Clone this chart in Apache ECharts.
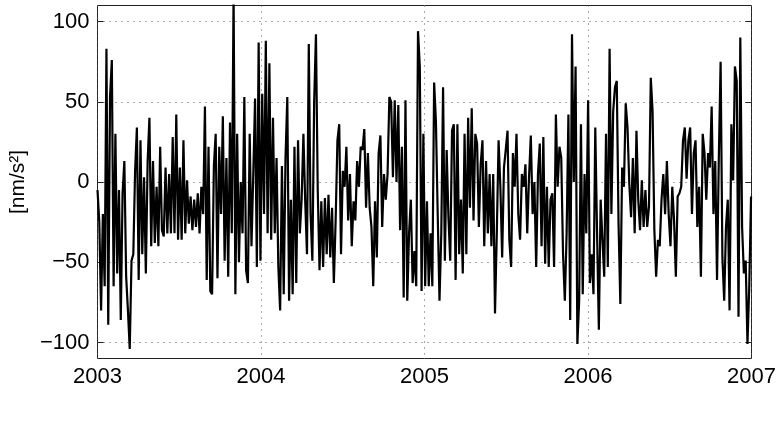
<!DOCTYPE html>
<html>
<head>
<meta charset="utf-8">
<script src="https://cdn.jsdelivr.net/npm/echarts@6/dist/echarts.min.js"></script>
<style>
  html, body { margin: 0; padding: 0; background: #fff; }
  #chart { width: 782px; height: 425px; }
</style>
</head>
<body>
<div id="chart"></div>
<script>
// samples every 4 days from 2003-01-01, values in nm/s^2
const startYear = 2003;
const stepDays = 4;
const values = [
  -5, -25, -80, -20, -65, 83, -89, 53, 76, -65, 30, -57, -5, -86, -7, 13, -59, -80, -104, -49,
  -45, 7, 34, -61, 26, -45, 3, -57, 13, 40, -40, 13, -38, -3, -40, 22, -30, -34, 9, -32,
  5, -32, 28, -32, 42, -36, 9, -36, 26, -32, 1, -26, -9, -30, -11, -28, -7, -32, -3, -20,
  47, -61, 22, -68, -70, 10, 30, -60, 22, -20, 41, -49, 15, -59, 37, -32, 118, -70, 30, -50,
  0, -32, 53, -55, -63, 30, -40, 5, 52, -53, 87, -49, 55, -20, 88, -32, 74, -36, 40, -32,
  15, -53, -80, 10, -70, 15, 53, -74, -11, -70, 22, -63, 26, -32, -11, 30, -12, -45, 86, -20,
  -49, 50, 92, -5, -55, -12, -53, -10, -45, -8, -47, -16, -63, -24, 26, 36, -45, 7, -3, 22,
  -24, 5, -40, -12, -24, 13, -3, 22, 20, 33, -16, 18, -16, -28, -65, -12, -47, 18, 29, -28,
  5, -11, 5, 53, 50, 3, 51, 0, 48, -30, 22, -72, 51, -74, -32, -11, -63, -43, -65, 94,
  72, -68, 30, -65, -12, -65, -32, -65, 62, 38, -20, -74, -32, 59, -49, 20, -22, -49, 32, 36,
  -61, 36, -45, -11, -57, 30, -45, 40, -16, 46, -24, 30, 24, -28, 11, 26, -40, 13, -32, 5,
  -40, 5, -82, -32, 26, -3, -47, 9, 20, 32, -36, -53, 18, -3, 30, -20, -36, 5, -3, 11,
  -32, 3, 29, -20, 0, -53, 5, 24, -40, 28, -51, -3, -53, -11, -7, -53, 42, -3, 22, 15,
  -45, -74, -32, 42, -86, 92, 0, 72, -101, -74, 36, -70, 5, -32, 51, -63, -45, -70, 34, -32,
  -92, -11, -36, -59, 30, -53, 83, -20, 44, 59, 63, -26, -76, 9, -3, 49, 34, -1, -22, 15,
  -32, 32, -11, -30, 1, -28, -5, -28, -15, 65, 44, -30, -59, -36, -40, -11, 5, -20, 13, -20,
  -40, -3, -24, -59, -9, -7, -3, 26, 34, 2, 26, 34, -20, 18, 26, -28, -3, -59, 30, 18,
  -11, 18, 9, 47, -20, 13, -61, 15, 75, -47, -74, -28, -11, -80, 36, 1, 72, 63, -84, 90,
  -28, -57, -49, -101, -65, -9
];
const yTicks = [-100, -50, 0, 50, 100];
const yLabel = '[nm/s\u00b2]';

const points = values.map((v, i) => [startYear + i * stepDays / 365.25, v]);

const chart = echarts.init(document.getElementById('chart'));
const font = 'Liberation Sans, Arial, Helvetica, sans-serif';
const dotted = { color: '#555', width: 1, type: [1, 5] };

chart.setOption({
  animation: false,
  backgroundColor: '#fff',
  grid: {
    left: 97.5, right: 30.5, top: 5.5, bottom: 66.5,
    show: true, borderColor: '#222', borderWidth: 1
  },
  xAxis: [{
    type: 'value', min: 2003, max: 2007, interval: 1,
    axisLine: { show: false },
    axisTick: { inside: true, length: 6, lineStyle: { color: '#222' } },
    axisLabel: { color: '#000', fontSize: 22, fontFamily: font, margin: 7, formatter: v => String(v) },
    splitLine: { show: true, lineStyle: dotted }
  }, {
    type: 'value', min: 2003, max: 2007, interval: 1, position: 'top',
    axisLine: { show: false },
    axisTick: { inside: true, length: 6, lineStyle: { color: '#222' } },
    axisLabel: { show: false }, splitLine: { show: false }
  }],
  yAxis: [{
    type: 'value', min: -110, max: 110,
    name: yLabel, nameLocation: 'middle', nameGap: 64, nameRotate: 90,
    nameTextStyle: { color: '#000', fontSize: 21, fontFamily: font },
    axisLine: { show: false },
    axisTick: { inside: true, length: 6, customValues: yTicks, lineStyle: { color: '#222' } },
    axisLabel: {
      color: '#000', fontSize: 22, fontFamily: font, margin: 8, customValues: yTicks,
      formatter: v => String(v).replace('-', '\u2212')
    },
    splitLine: { show: true, lineStyle: dotted }
  }, {
    type: 'value', min: -110, max: 110, position: 'right',
    axisLine: { show: false },
    axisTick: { inside: true, length: 6, customValues: yTicks, lineStyle: { color: '#222' } },
    axisLabel: { show: false, customValues: yTicks }, splitLine: { show: false }
  }],
  series: [{
    type: 'line',
    data: points,
    showSymbol: false,
    clip: true,
    lineStyle: { color: '#000', width: 2.2 }
  }]
});
</script>
</body>
</html>
